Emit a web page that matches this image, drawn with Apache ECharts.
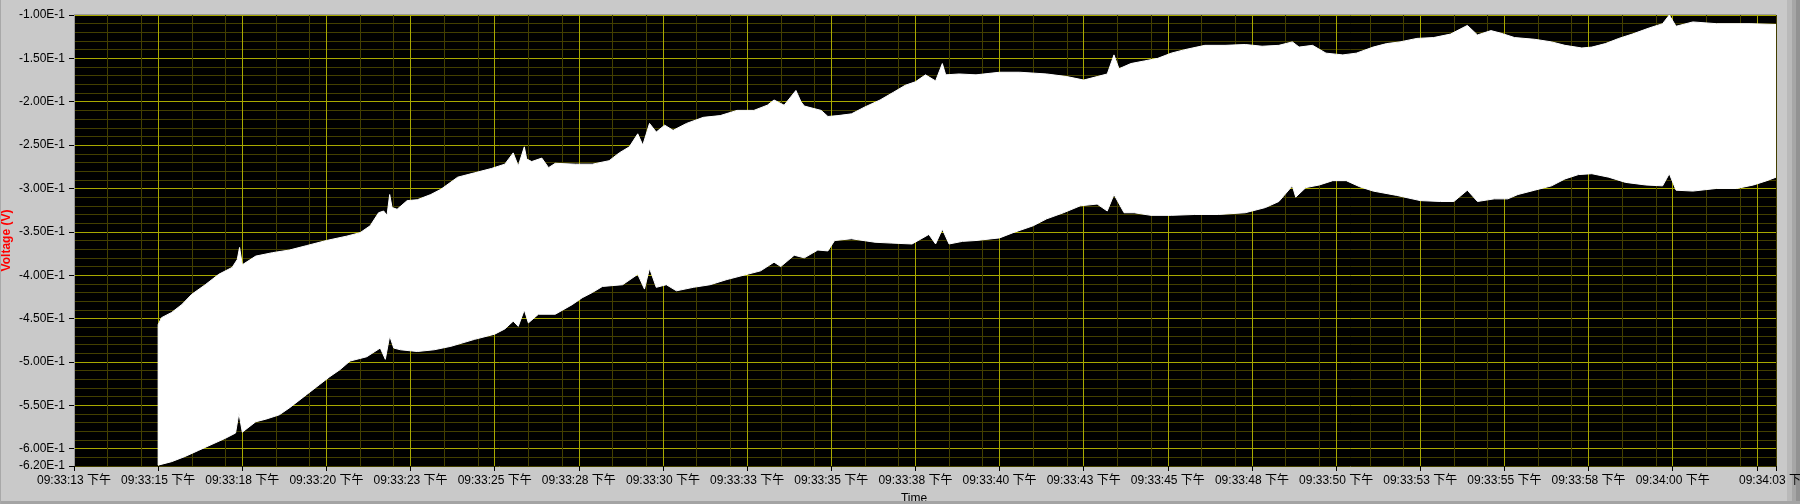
<!DOCTYPE html>
<html>
<head>
<meta charset="utf-8">
<script src="https://cdn.jsdelivr.net/npm/echarts@6/dist/echarts.min.js"></script>
<style>
html,body{margin:0;padding:0;background:#c9c9c9;}
#chart{width:1800px;height:504px;}
</style>
</head>
<body>
<div id="chart"></div>
<script>
// ---- data (time in seconds after 09:33:00 PM) ----
const upperT = [15.0,15.1,15.4,15.7,16.0,16.4,16.8,17.2,17.35,17.42,17.5,17.9,18.4,18.9,19.4,20.0,20.6,21.0,21.3,21.55,21.7,21.8,21.88,21.95,22.1,22.4,22.7,23.1,23.4,23.9,24.4,24.9,25.3,25.55,25.7,25.88,25.95,26.1,26.4,26.6,26.8,27.4,27.9,28.4,28.7,29.0,29.25,29.4,29.6,29.8,30.05,30.3,30.7,31.2,31.7,32.2,32.7,33.1,33.3,33.6,33.95,34.1,34.2,34.7,34.9,35.2,35.6,36.0,36.45,36.85,37.2,37.5,37.8,38.1,38.3,38.4,38.8,39.3,40.0,40.6,41.4,42.0,42.5,42.9,43.2,43.4,43.55,43.9,44.3,44.7,45.1,45.5,46.1,46.7,47.3,47.8,48.3,48.7,48.9,49.3,49.7,50.2,50.6,51.1,51.5,51.9,52.4,52.9,53.4,53.9,54.2,54.6,54.9,55.3,55.9,56.4,56.8,57.3,57.6,58.0,58.4,58.8,59.3,59.7,59.9,60.1,60.6,61.3,62.3,63.07];
const upperV = [-0.457,-0.449,-0.443,-0.434,-0.422,-0.411,-0.399,-0.391,-0.382,-0.368,-0.388,-0.378,-0.374,-0.371,-0.366,-0.360,-0.355,-0.351,-0.343,-0.328,-0.326,-0.331,-0.307,-0.322,-0.324,-0.314,-0.313,-0.307,-0.301,-0.287,-0.282,-0.277,-0.272,-0.259,-0.274,-0.252,-0.266,-0.269,-0.265,-0.276,-0.271,-0.272,-0.272,-0.268,-0.259,-0.252,-0.237,-0.250,-0.225,-0.235,-0.227,-0.233,-0.225,-0.218,-0.216,-0.210,-0.210,-0.204,-0.198,-0.204,-0.187,-0.200,-0.205,-0.210,-0.217,-0.216,-0.214,-0.206,-0.198,-0.189,-0.181,-0.177,-0.169,-0.176,-0.156,-0.169,-0.168,-0.169,-0.166,-0.166,-0.168,-0.171,-0.175,-0.171,-0.168,-0.146,-0.162,-0.156,-0.153,-0.150,-0.144,-0.140,-0.135,-0.135,-0.134,-0.136,-0.135,-0.131,-0.137,-0.135,-0.144,-0.146,-0.144,-0.137,-0.133,-0.131,-0.127,-0.126,-0.122,-0.112,-0.123,-0.118,-0.121,-0.126,-0.128,-0.131,-0.135,-0.138,-0.137,-0.133,-0.127,-0.122,-0.115,-0.110,-0.100,-0.113,-0.108,-0.110,-0.110,-0.111];
const lowerT = [15.0,15.4,15.8,16.2,16.6,17.0,17.3,17.4,17.5,17.9,18.2,18.6,18.9,19.4,19.8,20.1,20.4,20.7,21.2,21.6,21.75,21.88,22.0,22.2,22.7,23.2,23.7,24.4,25.0,25.3,25.55,25.7,25.88,26.0,26.3,26.8,27.3,27.6,27.9,28.2,28.8,29.25,29.45,29.6,29.8,30.1,30.4,30.9,31.4,31.9,32.5,32.9,33.3,33.5,33.9,34.2,34.6,34.9,35.1,35.6,36.3,36.8,37.4,37.9,38.1,38.3,38.5,38.9,39.3,40.0,40.4,41.0,41.4,41.9,42.4,42.9,43.2,43.4,43.7,44.0,44.5,45.1,45.8,46.5,47.3,47.9,48.3,48.7,48.8,49.1,49.5,49.9,50.3,50.7,51.1,51.8,52.5,53.1,53.5,53.9,54.2,54.7,55.1,55.4,55.9,56.4,56.8,57.2,57.6,58.1,58.6,59.2,59.7,59.9,60.1,60.6,61.3,61.9,62.4,62.8,63.07];
const lowerV = [-0.619,-0.615,-0.609,-0.602,-0.595,-0.588,-0.582,-0.559,-0.581,-0.569,-0.566,-0.561,-0.553,-0.538,-0.526,-0.517,-0.509,-0.499,-0.494,-0.484,-0.497,-0.470,-0.484,-0.486,-0.488,-0.486,-0.482,-0.474,-0.468,-0.462,-0.453,-0.459,-0.440,-0.455,-0.445,-0.445,-0.434,-0.426,-0.420,-0.413,-0.411,-0.399,-0.416,-0.392,-0.414,-0.411,-0.418,-0.414,-0.411,-0.405,-0.399,-0.395,-0.385,-0.390,-0.377,-0.380,-0.371,-0.372,-0.360,-0.358,-0.362,-0.363,-0.364,-0.353,-0.364,-0.347,-0.364,-0.361,-0.360,-0.357,-0.351,-0.343,-0.335,-0.328,-0.320,-0.318,-0.326,-0.307,-0.328,-0.328,-0.331,-0.331,-0.330,-0.330,-0.328,-0.322,-0.315,-0.297,-0.310,-0.299,-0.296,-0.291,-0.291,-0.298,-0.303,-0.308,-0.314,-0.315,-0.315,-0.302,-0.315,-0.312,-0.312,-0.307,-0.302,-0.297,-0.289,-0.284,-0.283,-0.287,-0.293,-0.296,-0.297,-0.283,-0.302,-0.303,-0.300,-0.300,-0.296,-0.291,-0.287];

const xLabelValues = [12.5,15,17.5,20,22.5,25,27.5,30,32.5,35,37.5,40,42.5,45,47.5,50,52.5,55,57.5,60,63.07];
const xLabelTexts = ['09:33:13 下午','09:33:15 下午','09:33:18 下午','09:33:20 下午','09:33:23 下午','09:33:25 下午','09:33:28 下午','09:33:30 下午','09:33:33 下午','09:33:35 下午','09:33:38 下午','09:33:40 下午','09:33:43 下午','09:33:45 下午','09:33:48 下午','09:33:50 下午','09:33:53 下午','09:33:55 下午','09:33:58 下午','09:34:00 下午','09:34:03 下午'];
const xTickValues = [12.5,15,17.5,20,22.5,25,27.5,30,32.5,35,37.5,40,42.5,45,47.5,50,52.5,55,57.5,60,62.5,63.07];
const yLabelValues = [-0.62,-0.60,-0.55,-0.50,-0.45,-0.40,-0.35,-0.30,-0.25,-0.20,-0.15,-0.10];
const yLabelTexts = ['-6.20E-1','-6.00E-1','-5.50E-1','-5.00E-1','-4.50E-1','-4.00E-1','-3.50E-1','-3.00E-1','-2.50E-1','-2.00E-1','-1.50E-1','-1.00E-1'];

const X_MIN = 12.5, X_MAX = 63.07, Y_MIN = -0.62, Y_MAX = -0.10;
const MAJOR = '#a8a800', MINOR = '#433f00';
const FONT = '"Liberation Sans", Arial, "Noto Sans CJK SC", sans-serif';

function lookup(vals, texts, v) {
  for (let i = 0; i < vals.length; i++) if (Math.abs(vals[i] - v) < 1e-6) return texts[i];
  return '';
}

const chart = echarts.init(document.getElementById('chart'), null, {renderer: 'canvas'});
chart.setOption({
  backgroundColor: '#c9c9c9',
  animation: false,
  grid: {left: 74, right: 24, top: 15, bottom: 38, show: true, backgroundColor: '#000', borderWidth: 0,
         containLabel: false, outerBoundsMode: 'none'},
  xAxis: [
    {type: 'value', min: X_MIN, max: X_MAX, interval: 0.5, position: 'bottom',
     axisLine: {show: false}, axisTick: {show: false}, axisLabel: {show: false},
     splitLine: {show: true, lineStyle: {width: 1, color: [MAJOR, 'rgba(0,0,0,0)', MINOR, 'rgba(0,0,0,0)', MINOR]}}},
    {type: 'value', min: X_MIN, max: X_MAX, position: 'bottom',
     axisLine: {show: false},
     axisTick: {show: true, length: 5, lineStyle: {color: '#000'}, customValues: xTickValues},
     axisLabel: {show: true, margin: 9, color: '#000', fontSize: 12, fontFamily: FONT, hideOverlap: false,
       customValues: xLabelValues, formatter: v => lookup(xLabelValues, xLabelTexts, v)},
     splitLine: {show: false},
     name: 'Time', nameLocation: 'middle', nameGap: 27, nameMoveOverlap: false,
     nameTextStyle: {color: '#000', fontSize: 12, fontFamily: FONT, padding: [0, 22, 0, 0]}}
  ],
  yAxis: [
    {type: 'value', min: Y_MIN, max: Y_MAX, interval: 0.01, position: 'left',
     axisLine: {show: false}, axisTick: {show: false}, axisLabel: {show: false},
     splitLine: {show: true, lineStyle: {width: 1, color: [MINOR, MINOR, MAJOR, MINOR, MINOR]}}},
    {type: 'value', min: Y_MIN, max: Y_MAX, position: 'left',
     axisLine: {show: true, lineStyle: {color: '#9a9a9a', width: 1}},
     axisTick: {show: true, length: 5, lineStyle: {color: '#000'}, customValues: yLabelValues},
     axisLabel: {show: true, margin: 9, color: '#000', fontSize: 12, fontFamily: FONT, hideOverlap: false,
       customValues: yLabelValues, formatter: v => lookup(yLabelValues, yLabelTexts, v)},
     splitLine: {show: false},
     name: 'Voltage (V)', nameLocation: 'middle', nameGap: 61, nameMoveOverlap: false,
     nameTextStyle: {color: '#ff0000', fontSize: 12, fontWeight: 'bold', fontFamily: FONT}}
  ],
  series: [{
    type: 'custom',
    coordinateSystem: 'cartesian2d',
    xAxisIndex: 0, yAxisIndex: 0,
    clip: true,
    data: [[upperT[0], upperV[0]]],
    renderItem: function (params, api) {
      const pts = [];
      for (let i = 0; i < upperT.length; i++) pts.push(api.coord([upperT[i], upperV[i]]));
      for (let i = lowerT.length - 1; i >= 0; i--) pts.push(api.coord([lowerT[i], lowerV[i]]));
      return {type: 'polygon', shape: {points: pts}, style: {fill: '#ffffff', stroke: '#ffffff', lineWidth: 1}};
    }
  }],
  graphic: [
    {type: 'rect', z: 100, silent: true, shape: {x: 0, y: 501, width: 1800, height: 3}, style: {fill: '#a4a4a4'}},
    {type: 'rect', z: -10, silent: true, shape: {x: 1787, y: 0, width: 5, height: 504}, style: {fill: '#b9b9b9'}},
    {type: 'rect', z: -10, silent: true, shape: {x: 1792, y: 0, width: 4, height: 504}, style: {fill: '#a6a6a6'}},
    {type: 'rect', z: -10, silent: true, shape: {x: 1796, y: 0, width: 4, height: 504}, style: {fill: '#929292'}},
    {type: 'rect', z: 100, silent: true, shape: {x: 0, y: 0, width: 1, height: 504}, style: {fill: '#a8a8a8'}},
    {type: 'rect', z: 100, silent: true, shape: {x: 74, y: 14, width: 1702, height: 1}, style: {fill: '#9a9a9a'}}
  ]
});
</script>
</body>
</html>
